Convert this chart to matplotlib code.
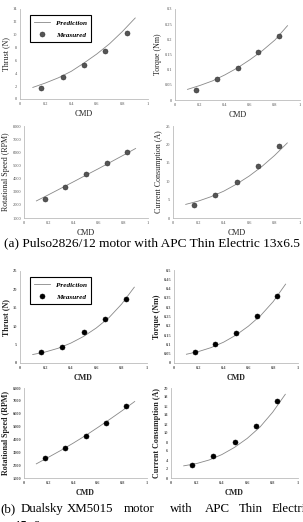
import matplotlib
matplotlib.use("Agg")
from matplotlib import pyplot as plt

# measured points (CMD) and prediction curves
cmd = [0.167, 0.333, 0.5, 0.667, 0.833]
cmd_pred = [0.1, 0.2, 0.3, 0.4, 0.5, 0.6, 0.7, 0.8, 0.9]

# (a) Pulso2826/12 + APC 13x6.5
a_thrust = [1.7, 3.4, 5.3, 7.5, 10.3]
a_thrust_pred = [1.8, 2.5, 3.3, 4.3, 5.6, 7.0, 8.6, 10.5, 12.6]
a_torque = [0.033, 0.068, 0.106, 0.157, 0.211]
a_torque_pred = [0.035, 0.048, 0.063, 0.083, 0.106, 0.133, 0.163, 0.198, 0.245]
a_speed = [2425, 3390, 4330, 5200, 6040]
a_speed_pred = [2300, 2780, 3270, 3760, 4260, 4750, 5260, 5770, 6290]
a_current = [3.5, 6.3, 9.8, 14.1, 19.6]
a_current_pred = [3.7, 4.6, 5.8, 7.3, 9.2, 11.4, 14.0, 17.0, 20.4]

# (b) Dualsky XM5015 + APC 15x6
b_thrust = [3.0, 4.3, 8.4, 11.9, 17.5]
b_thrust_pred = [2.3, 3.0, 4.0, 5.4, 7.2, 9.5, 12.3, 16.0, 20.6]
b_torque = [0.061, 0.103, 0.161, 0.255, 0.361]
b_torque_pred = [0.047, 0.062, 0.083, 0.112, 0.150, 0.198, 0.256, 0.330, 0.424]
b_speed = [2540, 3340, 4290, 5240, 6600]
b_speed_pred = [2100, 2620, 3150, 3710, 4300, 4930, 5580, 6250, 6950]
b_current = [2.9, 4.9, 7.9, 11.5, 17.1]
b_current_pred = [2.7, 3.2, 4.0, 5.2, 6.8, 8.8, 11.3, 14.6, 18.6]

W, H = 303, 522
fig = plt.figure(figsize=(W / 100, H / 100), dpi=100)
SERIF = ["Liberation Serif", "DejaVu Serif"]


def add_panel(x0, x1, ytop, ybot, meas, pred, ylim, ystep, ylabel, bold, mcolor, legend=False):
    ax = fig.add_axes([x0 / W, (H - ybot) / H, (x1 - x0) / W, (ybot - ytop) / H])
    weight = "bold" if bold else "normal"
    ax.plot(cmd_pred, pred, color="#888888", lw=0.6, label="Prediction")
    ax.plot(cmd, meas, "o", ms=3.6, color=mcolor, mec="#333333" if not bold else "black",
            mew=0.4, ls="none", label="Measured")
    ax.set_xlim(0, 1)
    ax.set_ylim(*ylim)
    ax.set_xticks([0, 0.2, 0.4, 0.6, 0.8, 1])
    ax.set_xticklabels(["0", "0.2", "0.4", "0.6", "0.8", "1"])
    yt = []
    v = ylim[0]
    while v <= ylim[1] + 1e-9:
        yt.append(round(v, 3))
        v += ystep
    ax.set_yticks(yt)
    ax.set_yticklabels(["%g" % t for t in yt])
    for s in ["top", "right"]:
        ax.spines[s].set_visible(False)
    for s in ["left", "bottom"]:
        ax.spines[s].set_color("#bbbbbb")
        ax.spines[s].set_linewidth(0.6)
    ax.tick_params(length=0, pad=2, labelsize=3.2, labelcolor="#555555")
    for lab in ax.get_xticklabels() + ax.get_yticklabels():
        lab.set_family(SERIF)
        lab.set_fontweight(weight)
    ax.set_xlabel("CMD", family=SERIF, fontsize=5.8, fontweight=weight, labelpad=3, color="#222222")
    ax.set_ylabel(ylabel, family=SERIF, fontsize=5.8, fontweight=weight, labelpad=2, color="#222222")
    if legend:
        leg = ax.legend(loc="upper left", bbox_to_anchor=(0.05, 0.97), fancybox=False,
                        prop={"family": SERIF, "size": 5.2, "weight": "bold", "style": "italic"},
                        handlelength=2.2, borderpad=0.6, labelspacing=0.8, framealpha=1)
        leg.get_frame().set_edgecolor("black")
        leg.get_frame().set_linewidth(0.8)
    return ax


add_panel(20, 148, 9, 99, a_thrust, a_thrust_pred, (0, 14), 2, "Thrust (N)", False, "#555555", legend=True)
add_panel(175, 300, 9, 100, a_torque, a_torque_pred, (0, 0.3), 0.05, "Torque (Nm)", False, "#555555")
add_panel(24, 148, 126, 218, a_speed, a_speed_pred, (1000, 8000), 1000, "Rotational Speed (RPM)", False, "#555555")
add_panel(173, 300, 126, 218, a_current, a_current_pred, (0, 25), 5, "Current Consumption (A)", False, "#555555")

add_panel(20, 147, 271, 363, b_thrust, b_thrust_pred, (0, 25), 5, "Thrust (N)", True, "black", legend=True)
add_panel(174, 298, 270, 363, b_torque, b_torque_pred, (0, 0.5), 0.05, "Torque (Nm)", True, "black")
add_panel(24, 147, 388, 478, b_speed, b_speed_pred, (1000, 8000), 1000, "Rotational Speed (RPM)", True, "black")
add_panel(171, 298, 388, 478, b_current, b_current_pred, (0, 20), 2, "Current Consumption (A)", True, "black")

fig.text(152 / W, 1 - 243 / H, "(a) Pulso2826/12 motor with APC Thin Electric 13x6.5",
         family=SERIF, fontsize=9.6, ha="center", va="center")

words = ["(b)", "Dualsky", "XM5015", "motor", "with", "APC", "Thin", "Electric"]
word_x = [0, 21, 67, 124, 170, 205, 239, 272]
for w, x in zip(words, word_x):
    fig.text(x / W, 1 - 509 / H, w, family=SERIF, fontsize=9.3, ha="left", va="center")
fig.text(15 / W, 1 - 526 / H, "15x6", family=SERIF, fontsize=9.3, ha="left", va="center")

fig.savefig("out.png", dpi=100)
